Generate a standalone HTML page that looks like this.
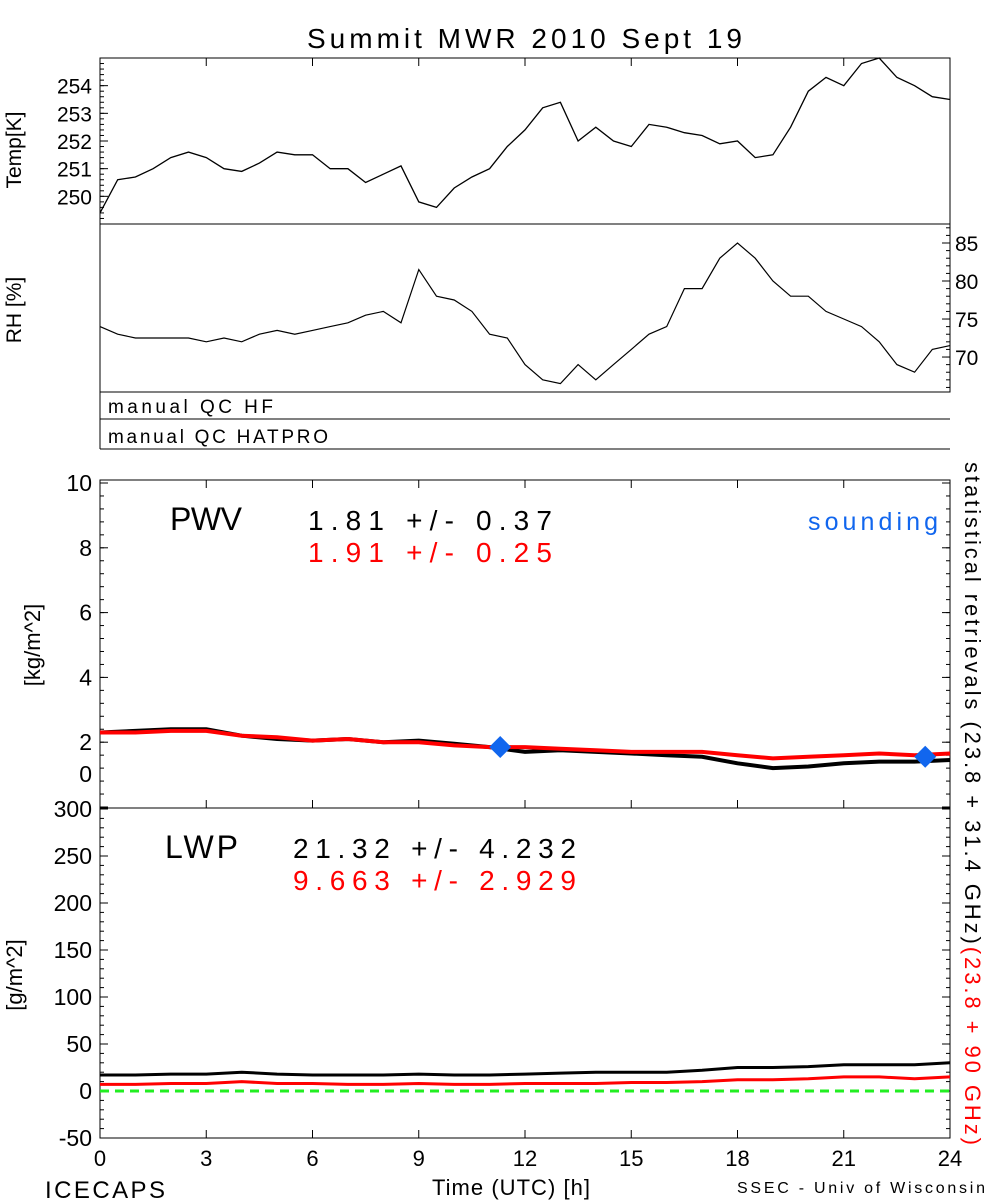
<!DOCTYPE html>
<html><head><meta charset="utf-8"><style>
body{margin:0;background:#fff;}
svg{display:block;font-family:"Liberation Sans",sans-serif;}
</style></head><body>
<svg id="c" width="1000" height="1200" viewBox="0 0 1000 1200">
<text x="307" y="48" font-size="28" textLength="435" lengthAdjust="spacing">Summit MWR 2010 Sept 19</text>
<g id="g"></g>
</svg>
<script>
const hours25=[0,1,2,3,4,5,6,7,8,9,10,11,12,13,14,15,16,17,18,19,20,21,22,23,24];
const tempVals=[249.4,250.6,250.7,251.0,251.4,251.6,251.4,251.0,250.9,251.2,251.6,251.5,251.5,251.0,251.0,250.5,250.8,251.1,249.8,249.6,250.3,250.7,251.0,251.8,252.4,253.2,253.4,252.0,252.5,252.0,251.8,252.6,252.5,252.3,252.2,251.9,252.0,251.4,251.5,252.5,253.8,254.3,254.0,254.8,255.0,254.3,254.0,253.6,253.5];
const rhVals=[74,73,72.5,72.5,72.5,72.5,72,72.5,72,73,73.5,73,73.5,74,74.5,75.5,76,74.5,81.5,78,77.5,76,73,72.5,69,67,66.5,69,67,69,71,73,74,79,79,83,85,83,80,78,78,76,75,74,72,69,68,71,71.5];
const pwvBlack=[2.3,2.35,2.4,2.4,2.2,2.1,2.05,2.1,2.0,2.05,1.95,1.85,1.7,1.75,1.7,1.65,1.6,1.55,1.35,1.2,1.25,1.35,1.4,1.4,1.45];
const pwvRed=[2.3,2.3,2.35,2.35,2.2,2.15,2.05,2.1,2.0,2.0,1.9,1.85,1.85,1.8,1.75,1.7,1.7,1.7,1.6,1.5,1.55,1.6,1.65,1.6,1.65];
const soundingT=[11.3,23.3];
const soundingV=[1.85,1.55];
const lwpBlack=[17,17,18,18,20,18,17,17,17,18,17,17,18,19,20,20,20,22,25,25,26,28,28,28,30];
const lwpRed=[7,7,8,8,10,8,8,7,7,8,7,7,8,8,8,9,9,10,12,12,13,15,15,13,15];
const xTicks=[0,3,6,9,12,15,18,21,24];
const tempTicks=[250,251,252,253,254];
const rhTicks=[70,75,80,85];
const pwvTicks=[0,2,4,6,8,10];
const lwpTicks=[-50,0,50,100,150,200,250,300];

const NS="http://www.w3.org/2000/svg";
const G=document.getElementById('g');
function el(t,a,txt){const e=document.createElementNS(NS,t);for(const k in a)e.setAttribute(k,a[k]);if(txt!==undefined)e.textContent=txt;G.appendChild(e);return e;}
const X0=100,X1=950;
const x=h=>X0+(X1-X0)*h/24;
function lin(d0,d1,p0,p1){return v=>p0+(v-d0)*(p1-p0)/(d1-d0);}
const yT=lin(249,255,224,58), yR=lin(65.4,87.5,392,224), yP=lin(0,10,807,483), yL=lin(-50,300,1138,809);
const halfH=tempVals.map((v,i)=>i*0.5);

function path(ts,vs,fy,col,w,dash){
  let d=ts.map((t,i)=>(i?'L':'M')+x(t).toFixed(1)+','+fy(vs[i]).toFixed(1)).join('');
  const p=el('path',{d:d,fill:'none',stroke:col,'stroke-width':w});
  if(dash)p.setAttribute('stroke-dasharray',dash);
  return p;
}
function frame(y0,y1,name){const r=el('rect',{x:X0,y:y0,width:X1-X0,height:y1-y0,fill:'none',stroke:'#000','stroke-width':1});
}
function minor(lo,hi,step,fy,side,y0,y1){for(let v=lo;v<=hi+1e-9;v+=step){const yy=fy(v);if(yy<y0||yy>y1)continue;
 if(side!=='r')el('line',{x1:X0,x2:X0+4,y1:yy,y2:yy,stroke:'#000'});
 if(side!=='l')el('line',{x1:X1-4,x2:X1,y1:yy,y2:yy,stroke:'#000'});}}

// Temp
frame(58,224,'temp-panel');
minor(249,255,0.2,yT,'l',58,224);
tempTicks.forEach(v=>{el('line',{x1:X0,x2:X0+8,y1:yT(v),y2:yT(v),stroke:'#000'});
 const t=el('text',{x:92,y:yT(v)+8,'font-size':21,'text-anchor':'end'},v);});
let p=path(halfH,tempVals,yT,'#000',1.3);
let t=el('text',{x:0,y:0,'font-size':21,'text-anchor':'middle',transform:'translate(21,150) rotate(-90)'},'Temp[K]');
// RH
frame(224,392,'rh-panel');
minor(66,87,1,yR,'r',224,392);
rhTicks.forEach(v=>{el('line',{x1:X1-8,x2:X1,y1:yR(v),y2:yR(v),stroke:'#000'});
 const t=el('text',{x:955,y:yR(v)+8,'font-size':21},v);});
p=path(halfH,rhVals,yR,'#000',1.2);
t=el('text',{x:0,y:0,'font-size':21,'text-anchor':'middle',transform:'translate(21,310) rotate(-90)'},'RH [%]');
// QC
el('line',{x1:X0,x2:X0,y1:392,y2:449,stroke:'#000'});
el('line',{x1:X0,x2:X1,y1:419,y2:419,stroke:'#000'});
el('line',{x1:X0,x2:X1,y1:449,y2:449,stroke:'#000'});
t=el('text',{x:108,y:413,'font-size':19,textLength:165,lengthAdjust:'spacing'},'manual QC HF');
t=el('text',{x:108,y:443,'font-size':19,textLength:220,lengthAdjust:'spacing'},'manual QC HATPRO');
// PWV
frame(480,808,'pwv-panel');
minor(0,10,0.4,yP,'b',480,808);
pwvTicks.forEach(v=>{el('line',{x1:X0,x2:X0+8,y1:yP(v),y2:yP(v),stroke:'#000'});el('line',{x1:X1-8,x2:X1,y1:yP(v),y2:yP(v),stroke:'#000'});
 const t=el('text',{x:92,y:Math.min(yP(v)+8,782),'font-size':23,'text-anchor':'end'},v);});
p=path(hours25,pwvBlack,yP,'#000',4);
p=path(hours25,pwvRed,yP,'#f00',4);
soundingT.forEach((h,i)=>{const cx=x(h),cy=yP(soundingV[i]);
 const d=el('polygon',{points:`${cx},${cy-11} ${cx+11},${cy} ${cx},${cy+11} ${cx-11},${cy}`,fill:'#1166ee'});
 });
t=el('text',{x:0,y:0,'font-size':22,'text-anchor':'middle',transform:'translate(40,645) rotate(-90)'},'[kg/m^2]');
t=el('text',{x:170,y:530,'font-size':32,textLength:72,lengthAdjust:'spacing'},'PWV');
t=el('text',{x:308,y:530,'font-size':28,textLength:244,lengthAdjust:'spacing'},'1.81 +/-   0.37');
t=el('text',{x:308,y:562,'font-size':28,fill:'#f00',textLength:244,lengthAdjust:'spacing'},'1.91 +/-   0.25');
t=el('text',{x:808,y:530,'font-size':25,fill:'#1166ee',textLength:130,lengthAdjust:'spacing'},'sounding');
// LWP
frame(808,1138,'lwp-panel');
minor(-50,300,10,yL,'b',808,1138);
lwpTicks.forEach(v=>{el('line',{x1:X0,x2:X0+8,y1:yL(v),y2:yL(v),stroke:'#000'});el('line',{x1:X1-8,x2:X1,y1:yL(v),y2:yL(v),stroke:'#000'});
 const t=el('text',{x:92,y:yL(v)+8,'font-size':23,'text-anchor':'end'},v);});
p=el('line',{x1:X0,x2:X1,y1:yL(0),y2:yL(0),stroke:'#22ee22','stroke-width':3,'stroke-dasharray':'9,6'});
p=path(hours25,lwpBlack,yL,'#000',3);
p=path(hours25,lwpRed,yL,'#f00',3);
t=el('text',{x:0,y:0,'font-size':22,'text-anchor':'middle',transform:'translate(22,975) rotate(-90)'},'[g/m^2]');
t=el('text',{x:165,y:858,'font-size':32,textLength:73,lengthAdjust:'spacing'},'LWP');
t=el('text',{x:293,y:858,'font-size':28,textLength:283,lengthAdjust:'spacing'},'21.32 +/-   4.232');
t=el('text',{x:293,y:890,'font-size':28,fill:'#f00',textLength:283,lengthAdjust:'spacing'},'9.663 +/-   2.929');
// x axis
xTicks.forEach(h=>{[[808,800],[1138,1130],[480,488],[58,66]].forEach(a=>el('line',{x1:x(h),x2:x(h),y1:a[0],y2:a[1],stroke:'#000'}));
 const t=el('text',{x:x(h),y:1166,'font-size':22,'text-anchor':'middle'},h);});
t=el('text',{x:432,y:1195,'font-size':22,textLength:158,lengthAdjust:'spacing'},'Time (UTC) [h]');
t=el('text',{x:45,y:1198,'font-size':24,textLength:120,lengthAdjust:'spacing'},'ICECAPS');
t=el('text',{x:737,y:1193,'font-size':16,textLength:248,lengthAdjust:'spacing'},'SSEC - Univ of Wisconsin');
// right rotated
const rt=el('text',{x:0,y:0,'font-size':22,transform:'translate(965,462) rotate(90)',textLength:683,lengthAdjust:'spacing'});

const s1=document.createElementNS(NS,'tspan');s1.textContent='statistical retrievals (23.8 + 31.4 GHz)';rt.appendChild(s1);
const s2=document.createElementNS(NS,'tspan');s2.setAttribute('fill','#f00');s2.textContent='(23.8 + 90 GHz)';rt.appendChild(s2);
</script>
</body></html>
